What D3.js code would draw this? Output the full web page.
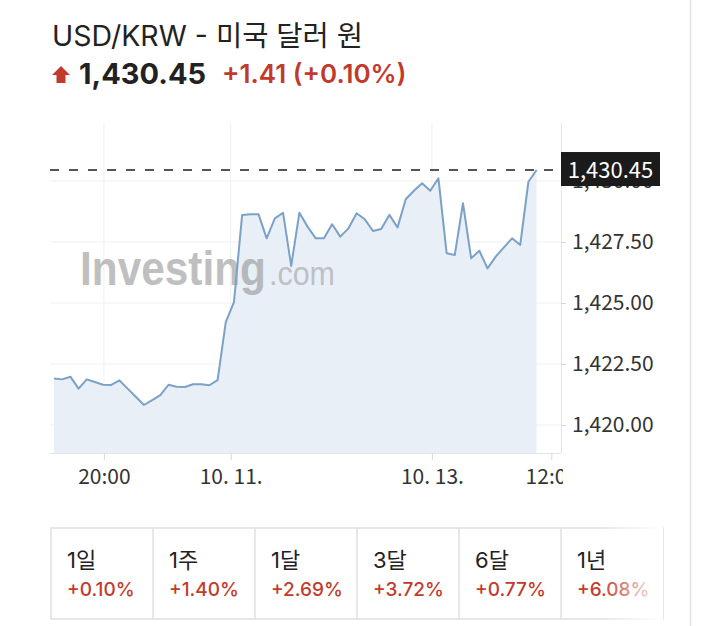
<!DOCTYPE html>
<html>
<head>
<meta charset="utf-8">
<script src="https://cdn.jsdelivr.net/npm/d3@7"></script>
<style>
  body { margin: 0; background: #fff; }
  svg { display: block; }
</style>
</head>
<body>
<div id="chart"></div>
<script>
// USD/KRW intraday quotes (evenly spaced points)
const rates = [
  1421.91, 1421.87, 1421.98, 1421.49, 1421.87, 1421.76, 1421.65, 1421.64, 1421.83, 1421.49,
  1421.16, 1420.82, 1421.02, 1421.22, 1421.65, 1421.57, 1421.56, 1421.67, 1421.67, 1421.63,
  1421.84, 1424.22, 1425.04, 1428.61, 1428.64, 1428.64, 1427.65, 1428.47, 1428.70, 1426.52,
  1428.70, 1428.13, 1427.65, 1427.65, 1428.23, 1427.72, 1428.06, 1428.68, 1428.43, 1427.95,
  1428.03, 1428.61, 1428.10, 1429.25, 1429.60, 1429.91, 1429.60, 1430.11, 1427.04, 1426.97,
  1429.09, 1426.83, 1427.14, 1426.42, 1426.90, 1427.28, 1427.65, 1427.38, 1429.97, 1430.45
];
const xTickIndex = [6.1, 21.6, 46.2, 60.8];
const xTickLabels = ["20:00", "10. 11.", "10. 13.", "12:00"];
const yTicks = [1420, 1422.5, 1425, 1427.5, 1430];

const title = "USD/KRW - 미국 달러 원";
const lastPrice = 1430.45;
const change = "+1.41 (+0.10%)";

const periods = ["1일", "1주", "1달", "3달", "6달", "1년"];
const periodChanges = ["+0.10%", "+1.40%", "+2.69%", "+3.72%", "+0.77%", "+6.08%"];

const W = 721, H = 626;
const plot = { left: 50, right: 561, top: 123, bottom: 453 };
const red = "#c23a2c";
const axisFont = "'Noto Sans CJK KR', 'Noto Sans', sans-serif";
const headFont = "Inter, 'Noto Sans CJK KR', sans-serif";

const svg = d3.select("#chart").append("svg")
    .attr("width", W)
    .attr("height", H);

const defs = svg.append("defs");
defs.append("clipPath").attr("id", "plotclip")
  .append("rect").attr("x", 0).attr("y", 0).attr("width", plot.right + 2).attr("height", H);

const fade = defs.append("linearGradient").attr("id", "fade")
    .attr("x1", 0).attr("x2", 1).attr("y1", 0).attr("y2", 0);
fade.append("stop").attr("offset", 0).attr("stop-color", "#fff").attr("stop-opacity", 0);
fade.append("stop").attr("offset", 1).attr("stop-color", "#fff").attr("stop-opacity", 1);

// page edge on the right
svg.append("line")
    .attr("x1", 690.5).attr("x2", 690.5).attr("y1", 0).attr("y2", H)
    .style("stroke", "#e2e2e2").style("stroke-width", 1.5);

// header
svg.append("text")
    .attr("x", 52).attr("y", 46)
    .style("font-family", headFont)
    .style("font-size", "28.5px")
    .style("fill", "#222")
    .text(title);

svg.append("path")
    .attr("d", "M61,66 L70,75 L65.5,75 L65.5,83 L56.5,83 L56.5,75 L52,75 Z")
    .style("fill", red);

svg.append("text")
    .attr("x", 79).attr("y", 84)
    .style("font-family", headFont)
    .style("font-size", "29px")
    .style("font-weight", 700)
    .style("fill", "#222")
    .text(d3.format(",.2f")(lastPrice));

svg.append("text")
    .attr("x", 222).attr("y", 83)
    .style("font-family", headFont)
    .style("font-size", "26px")
    .style("font-weight", 600)
    .style("fill", red)
    .text(change);

// scales
const x = d3.scaleLinear().domain([0, rates.length - 1]).range([54, 536.6]);
const y = d3.scaleLinear().domain([1420, 1427.5]).range([425, 242]);

// grid
svg.append("g").selectAll("line")
  .data(yTicks).enter().append("line")
    .attr("x1", plot.left).attr("x2", plot.right)
    .attr("y1", d => y(d)).attr("y2", d => y(d))
    .style("stroke", "#f0f0f0").style("stroke-width", 1);

svg.append("g").selectAll("line")
  .data(xTickIndex.slice(0, 3)).enter().append("line")
    .attr("x1", d => x(d)).attr("x2", d => x(d))
    .attr("y1", plot.top).attr("y2", plot.bottom)
    .style("stroke", "#f0f0f0").style("stroke-width", 1);

// area + line
const area = d3.area()
    .x((d, i) => x(i))
    .y0(plot.bottom)
    .y1(d => y(d));

const line = d3.line()
    .x((d, i) => x(i))
    .y(d => y(d));

svg.append("path")
    .datum(rates)
    .attr("d", area)
    .style("fill", "#e9eff7");

// watermark
const wm = svg.append("g").style("opacity", 0.55);
wm.append("text")
    .attr("x", 80).attr("y", 285)
    .attr("textLength", 186).attr("lengthAdjust", "spacingAndGlyphs")
    .style("font-family", "'Liberation Sans', Arial, sans-serif")
    .style("font-size", "48px")
    .style("font-weight", 700)
    .style("fill", "#8c8c8c")
    .text("Investing");
wm.append("text")
    .attr("x", 269).attr("y", 285)
    .attr("textLength", 66).attr("lengthAdjust", "spacingAndGlyphs")
    .style("font-family", "'Liberation Sans', Arial, sans-serif")
    .style("font-size", "34px")
    .style("fill", "#9a9a9a")
    .text(".com");

svg.append("path")
    .datum(rates)
    .attr("d", line)
    .style("fill", "none")
    .style("stroke", "#7ca1c8")
    .style("stroke-width", 2)
    .style("stroke-linejoin", "round");

// frame: bottom + right
svg.append("line")
    .attr("x1", plot.left).attr("x2", plot.right)
    .attr("y1", plot.bottom + 0.5).attr("y2", plot.bottom + 0.5)
    .style("stroke", "#e4e4e4");
svg.append("line")
    .attr("x1", plot.right + 0.5).attr("x2", plot.right + 0.5)
    .attr("y1", plot.top).attr("y2", plot.bottom)
    .style("stroke", "#e4e4e4");

// y axis on the right
const yAxis = svg.append("g")
    .attr("transform", `translate(${plot.right},0)`)
    .call(d3.axisRight(y).tickValues(yTicks).tickSize(5).tickPadding(6)
        .tickFormat(d3.format(",.2f")));
yAxis.select(".domain").remove();
yAxis.selectAll(".tick line").style("stroke", "#d8d8d8");
yAxis.selectAll(".tick text")
    .style("font-family", axisFont)
    .style("font-size", "21px")
    .style("fill", "#333");

// x axis
const xAxis = svg.append("g")
    .attr("transform", `translate(0,${plot.bottom})`)
    .attr("clip-path", "url(#plotclip)")
    .call(d3.axisBottom(x).tickValues(xTickIndex).tickSize(7).tickPadding(9)
        .tickFormat((d, i) => xTickLabels[i]));
xAxis.select(".domain").remove();
xAxis.selectAll(".tick line").style("stroke", "#d8d8d8");
xAxis.selectAll(".tick text")
    .style("font-family", axisFont)
    .style("font-size", "21px")
    .style("fill", "#333");

// last price marker
svg.append("line")
    .attr("x1", plot.left).attr("x2", plot.right)
    .attr("y1", y(lastPrice)).attr("y2", y(lastPrice))
    .style("stroke", "#555")
    .style("stroke-width", 2)
    .style("stroke-dasharray", "9 10");

svg.append("rect")
    .attr("x", plot.right).attr("y", y(lastPrice) - 18)
    .attr("width", 99).attr("height", 34)
    .style("fill", "#1b1b1b");
svg.append("text")
    .attr("x", plot.right + 49.5).attr("y", y(lastPrice))
    .attr("dy", "0.36em")
    .attr("text-anchor", "middle")
    .style("font-family", axisFont)
    .style("font-size", "22px")
    .style("fill", "#fff")
    .text(d3.format(",.2f")(lastPrice));

// period change cards
const cardX = d3.scaleBand().domain(periods).range([51, 663]);
const cardTop = 528, cardH = 91;

svg.append("rect")
    .attr("x", 51).attr("y", cardTop)
    .attr("width", 612).attr("height", cardH)
    .style("fill", "#fff")
    .style("stroke", "#e0e0e0").style("stroke-width", 1.5);

const card = svg.append("g").selectAll("g")
  .data(periods).enter().append("g")
    .attr("transform", d => `translate(${cardX(d)},${cardTop})`);

card.filter((d, i) => i > 0).append("line")
    .attr("x1", 0).attr("x2", 0).attr("y1", 0).attr("y2", cardH)
    .style("stroke", "#e0e0e0").style("stroke-width", 1.5);

card.append("text")
    .attr("x", 16).attr("y", 40)
    .style("font-family", headFont)
    .style("font-size", "22px")
    .style("fill", "#222")
    .text(d => d);

card.append("text")
    .attr("x", 16).attr("y", 68)
    .style("font-family", headFont)
    .style("font-size", "19px")
    .style("font-weight", 500)
    .style("fill", red)
    .text((d, i) => periodChanges[i]);

svg.append("rect")
    .attr("x", 600).attr("y", cardTop - 2)
    .attr("width", 63).attr("height", cardH + 4)
    .style("fill", "url(#fade)");
</script>
</body>
</html>
